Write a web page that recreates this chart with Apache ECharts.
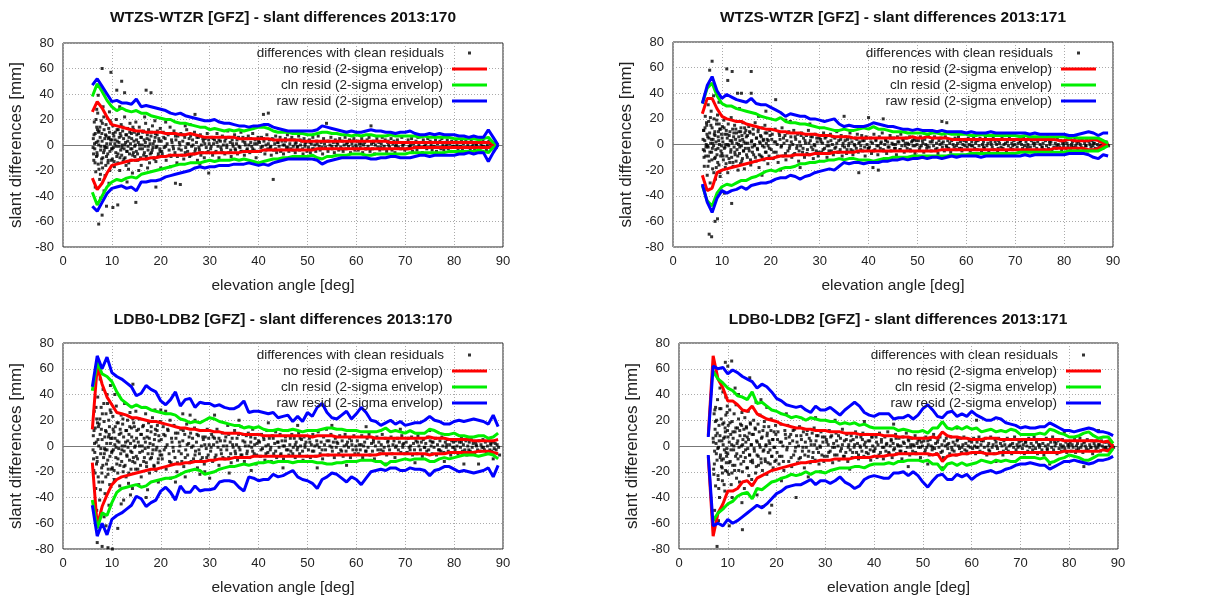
<!DOCTYPE html>
<html><head><meta charset="utf-8">
<script src="https://cdn.jsdelivr.net/npm/echarts@6/dist/echarts.min.js"></script>
<style>html,body{margin:0;padding:0;background:#fff}#c{width:1213px;height:601px}</style>
</head><body><div id="c"></div><script>
const TITLES=['WTZS-WTZR [GFZ] - slant differences 2013:170','WTZS-WTZR [GFZ] - slant differences 2013:171','LDB0-LDB2 [GFZ] - slant differences 2013:170','LDB0-LDB2 [GFZ] - slant differences 2013:171'];
const X_NAME='elevation angle [deg]';
const Y_NAME='slant differences [mm]';
const LEGEND_NAMES=['differences with clean residuals','no resid (2-sigma envelop)','cln resid (2-sigma envelop)','raw resid (2-sigma envelop)'];
const ELEV=[6,7,8,9,10,11,12,13,14,15,16,17,18,19,20,21,22,23,24,25,26,27,28,29,30,31,32,33,34,35,36,37,38,39,40,41,42,43,44,45,46,47,48,49,50,51,52,53,54,55,56,57,58,59,60,61,62,63,64,65,66,67,68,69,70,71,72,73,74,75,76,77,78,79,80,81,82,83,84,85,86,87,88,89];

// ---- Panel 1: WTZS-WTZR 2013:170
const P1_NO_UP=[26,34,29,22,16,15,14,13,12,11,11,10,10,10, 10,9,9,9,8,8,9,8,7,6,6,6,6,6, 6,6,5,5,5,5,5,5,5,4,4,4,4,4, 4,3,3,3,3,3,3,3,3,3,3,3,3,3, 3,3,3,3,3,2,2,2,2,2,2,2,2,2, 2,2,2,2,2,2,2,2,2,2,2,2,1,0];
const P1_NO_LO=[-26,-35,-30,-22,-16,-15,-14,-13,-12,-12,-11,-11,-10,-10, -9,-9,-8,-8,-8,-8,-7,-7,-6,-6,-6,-6,-6,-6, -6,-6,-6,-5,-5,-5,-5,-4,-4,-4,-4,-4,-4,-4, -4,-4,-4,-4,-3,-3,-3,-3,-3,-3,-3,-3,-3,-3, -3,-3,-3,-3,-3,-3,-3,-3,-3,-3,-2,-2,-2,-2, -2,-2,-2,-2,-2,-2,-2,-2,-2,-2,-2,-2,-1,0];
const P1_CLN_UP=[38,48,42,35,30,27,29,27,26,27,25,25,23,22, 21,20,20,18,17,17,16,15,14,14,12,13,12,11, 12,11,12,11,12,13,14,14,13,11,10,10,10,9, 9,9,8,8,9,10,10,9,9,8,8,7,8,7, 8,8,7,7,7,8,7,7,7,7,7,6,7,6, 6,6,6,6,5,5,5,5,5,4,5,6,2,0];
const P1_CLN_LO=[-37,-47,-40,-33,-29,-27,-28,-26,-25,-26,-23,-22,-21,-20, -19,-18,-17,-16,-15,-15,-14,-14,-14,-13,-12,-13,-12,-12, -12,-11,-12,-11,-12,-13,-14,-13,-12,-11,-11,-10,-10,-9, -9,-9,-9,-8,-10,-11,-9,-9,-8,-8,-8,-7,-7,-7, -8,-8,-7,-7,-7,-7,-7,-7,-7,-6,-6,-6,-6,-6, -6,-6,-6,-5,-5,-5,-5,-5,-5,-4,-5,-6,-2,0];
const P1_RAW_UP=[47,52,46,40,34,35,33,33,32,36,30,31,30,29, 28,27,25,24,25,23,22,21,20,19,19,20,18,17, 17,16,15,15,14,15,15,16,16,14,13,12,11,11, 11,11,11,11,12,15,14,13,12,11,10,11,10,10, 11,12,11,11,10,10,9,10,10,11,9,8,8,9, 8,9,8,8,8,7,7,6,7,6,6,12,6,0];
const P1_RAW_LO=[-48,-52,-45,-38,-34,-33,-32,-34,-33,-36,-29,-29,-28,-28, -27,-25,-24,-23,-22,-21,-20,-18,-17,-18,-17,-17,-16,-16, -16,-15,-15,-15,-14,-15,-16,-15,-16,-14,-13,-12,-11,-11, -11,-11,-11,-11,-12,-15,-13,-12,-11,-10,-10,-10,-10,-10, -10,-11,-11,-10,-10,-9,-9,-10,-10,-10,-9,-8,-8,-9, -8,-8,-8,-8,-8,-7,-7,-6,-7,-6,-6,-13,-6,0];
const P1_DOTS=[6.2,5,6.3,-12,6.4,18,6.5,-3,6.6,9,6.7,-21,6.8,2,6.9,14,7.0,-8,7.1,25,7.2,-15,7.3,0,7.4,11,7.5,-27,7.6,6,7.7,-4,7.8,19,7.9,-11,8.0,3,8.1,-18,8.2,30,8.3,-6,8.4,12,8.5,-1,8.6,-24,8.7,8,8.8,16,8.9,-9,9.0,-2,9.1,21,9.2,-14,9.3,5,9.4,-30,9.5,10,9.6,-5,9.7,1,9.8,17,9.9,-12,6.6,-33,7.3,-62,8.0,60,8.9,-48,9.8,57,7.7,-42,6.9,28,8.4,-36,9.5,26,7.2,39,8.0,-55,
10.0,4,10.1,-11,10.2,15,10.3,-2,10.4,7,10.5,-17,10.6,1,10.7,10,10.8,-6,10.9,20,11.0,-9,11.1,3,11.2,-14,11.3,12,11.4,-1,11.5,6,11.6,-20,11.7,9,11.8,-4,11.9,16,12.0,-8,12.1,0,12.2,11,12.3,-13,12.4,5,12.5,-3,12.6,22,12.7,-10,12.8,2,12.9,-16,13.0,8,13.1,-5,13.2,13,13.3,-1,13.4,-19,13.5,6,13.6,-7,13.7,17,13.8,1,13.9,-12,14.0,9,14.1,-3,14.2,-22,14.3,14,14.4,-6,14.5,3,14.6,10,14.7,-9,14.8,0,14.9,18,12.0,50,11.0,43,12.6,41,10.2,-49,11.2,-47,14.9,-45,13.1,-29,11.6,30,
15.0,-5,15.1,8,15.3,-12,15.4,2,15.6,14,15.7,-3,15.9,6,16.0,-16,16.2,0,16.3,10,16.5,-8,16.6,4,16.8,-1,16.9,17,17.1,-11,17.2,5,17.4,-4,17.5,12,17.7,-14,17.8,1,18.0,7,18.1,-6,18.3,15,18.4,-2,18.6,-10,18.7,3,18.9,9,19.0,-13,19.2,-1,19.3,11,19.5,-7,19.6,5,19.8,-3,19.9,13,15.5,-20,16.7,22,17.3,-18,18.8,19,17.0,43,18.0,41,19.0,-33,
20.1,3,20.3,-7,20.5,10,20.7,-2,20.9,5,21.1,-12,21.3,1,21.5,8,21.7,-4,21.9,14,22.1,-9,22.3,2,22.5,-1,22.7,11,22.9,-6,23.1,4,23.3,-14,23.5,7,23.7,-3,23.9,0,24.1,9,24.3,-8,24.5,3,24.7,-11,24.9,6,25.1,-2,25.3,12,25.5,-5,25.7,1,25.9,-9,26.1,7,26.3,-1,26.5,4,26.7,-7,26.9,10,27.1,-3,27.3,2,27.5,-12,27.7,6,27.9,-4,28.1,8,28.3,0,28.5,-6,28.7,3,28.9,-10,29.1,5,29.3,-2,29.5,9,29.7,-5,29.9,1,21.0,18,22.0,-17,26.0,16,28.0,-15,23.0,-30,24.0,-31,27.0,24,29.8,-22,25.0,15,20.0,-18,
30.2,-3,30.4,6,30.6,-8,30.8,1,31.0,4,31.3,-5,31.5,9,31.7,-1,31.9,-10,32.2,3,32.4,-4,32.6,7,32.8,0,33.1,-7,33.3,5,33.5,-2,33.7,11,33.9,-6,34.2,2,34.4,-9,34.6,4,34.8,-1,35.1,8,35.3,-4,35.5,1,35.7,-7,35.9,6,36.2,-2,36.4,10,36.6,-5,36.8,3,37.1,-8,37.3,0,37.5,5,37.7,-3,37.9,7,38.2,-6,38.4,2,38.6,-1,38.8,9,39.1,-4,39.3,4,39.5,-10,39.7,1,39.9,6,
40.2,2,40.4,-5,40.6,6,40.8,-1,41.0,24,41.1,3,41.3,-7,41.5,0,41.7,8,41.9,-3,42.0,25,42.2,4,42.4,-2,42.6,-8,42.8,5,43.0,-27,43.1,-4,43.3,1,43.5,7,43.7,-6,43.9,2,44.2,-1,44.4,6,44.6,-4,44.8,3,45.1,-7,45.3,0,45.5,5,45.7,-2,45.9,8,46.2,-5,46.4,1,46.6,-3,46.8,6,47.1,-1,47.3,4,47.5,-6,47.7,2,47.9,-2,48.2,7,48.4,-4,48.6,0,48.8,3,49.1,-7,49.3,5,49.5,-1,49.7,2,49.9,-5,
50.2,-2,50.4,4,50.6,-6,50.8,1,51.1,6,51.3,-3,51.5,0,51.7,-5,51.9,3,52.2,7,52.4,-1,52.6,-4,52.8,2,53.1,-7,53.3,5,53.5,1,53.7,-2,53.9,17,54.2,-5,54.4,3,54.6,0,54.8,6,55.1,-3,55.3,2,55.5,-6,55.7,4,55.9,-1,56.2,1,56.4,-4,56.6,5,56.8,-2,57.1,3,57.3,-5,57.5,0,57.7,6,57.9,-3,58.2,2,58.4,-1,58.6,4,58.8,-6,59.1,1,59.3,-2,59.5,5,59.7,-4,59.9,0,
60.2,3,60.4,-4,60.6,1,60.8,-2,61.1,5,61.3,-6,61.5,0,61.7,2,61.9,-3,62.2,4,62.4,-1,62.6,6,62.8,-5,63.0,15,63.1,1,63.3,-3,63.5,3,63.7,-7,63.9,0,64.2,5,64.4,-2,64.6,2,64.8,-4,65.1,1,65.3,6,65.5,-3,65.7,-1,65.9,4,66.2,-5,66.4,2,66.6,0,66.8,-2,67.1,5,67.3,-4,67.5,1,67.7,3,67.9,-6,68.2,0,68.4,4,68.6,-2,68.8,2,69.1,-3,69.3,6,69.5,-1,69.7,1,69.9,-4,
70.2,2,70.4,-3,70.6,4,70.8,-1,71.1,0,71.3,5,71.5,-5,71.7,1,71.9,-2,72.2,3,72.4,-4,72.6,6,72.8,0,73.1,-2,73.3,2,73.5,-6,73.7,4,73.9,-1,74.2,1,74.4,-3,74.6,5,74.8,-2,75.1,3,75.3,0,75.5,-4,75.7,2,75.9,-1,76.2,4,76.4,-5,76.6,1,76.8,-2,77.1,3,77.3,-3,77.5,5,77.7,0,77.9,-4,78.2,2,78.4,-1,78.6,4,78.8,-3,79.1,1,79.3,-5,79.5,3,79.7,-1,79.9,2,
80.2,-2,80.4,3,80.6,0,80.8,-4,81.1,2,81.3,-1,81.5,4,81.7,-3,81.9,1,82.2,-2,82.4,3,82.6,-5,82.8,0,83.1,2,83.3,-3,83.5,4,83.7,-1,83.9,1,84.2,-4,84.4,2,84.6,0,84.8,-2,85.1,3,85.3,-3,85.5,1,85.7,-1,85.9,4,86.2,-2,86.4,2,86.6,-4,86.8,0,87.1,3,87.3,-2,87.5,1,87.7,-3,87.9,2,88.2,-1,88.4,1,88.6,-2,88.8,0,
6.15,-2,6.35,8,6.55,-14,6.75,20,6.95,-6,7.15,3,7.35,-19,7.55,14,7.75,-1,7.95,9,8.15,-10,8.35,22,8.55,5,8.75,-16,8.95,1,9.15,-7,9.35,13,9.55,-20,9.75,4,9.95,-3,6.45,1,6.85,-9,7.25,10,7.65,-23,8.05,17,8.45,-4,8.85,7,9.25,-12,9.65,19,6.25,-7,7.05,12,7.85,-14,8.65,-2,9.45,6,
10.05,-3,10.25,9,10.45,-13,10.65,4,10.85,-1,11.05,12,11.25,-7,11.45,2,11.65,-10,11.85,7,12.05,-2,12.25,14,12.45,-11,12.65,0,12.85,8,13.05,-5,13.25,3,13.45,-14,13.65,10,13.85,-3,14.05,5,14.25,-8,14.45,12,14.65,-1,14.85,-12,15.05,4,15.25,-7,15.45,9,15.65,0,15.85,-10,16.05,6,16.25,-3,16.45,11,16.65,-6,16.85,2,17.05,-9,17.25,8,17.45,-1,17.65,4,17.85,-7,18.05,10,18.25,-4,18.45,1,18.65,-11,18.85,6,19.05,-2,19.25,8,19.45,-9,19.65,3,19.85,-5,
20.2,-5,20.6,6,21.0,-1,21.4,9,21.8,-8,22.2,4,22.6,-3,23.0,7,23.4,-9,23.8,2,24.2,-4,24.6,8,25.0,-6,25.4,1,25.8,5,26.2,-8,26.6,0,27.0,-5,27.4,6,27.8,-2,28.2,-8,28.6,5,29.0,1,29.4,-6,29.8,4,30.3,-1,30.7,5,31.1,-6,31.5,2,31.9,4,32.3,-2,32.7,-6,33.1,3,33.5,0,33.9,6,34.3,-4,34.7,1,
35.2,-3,35.6,4,36.0,-1,36.4,-5,36.8,6,37.2,2,37.6,-4,38.0,0,38.4,5,38.8,-3,39.2,1,39.6,-5,40.0,3,40.5,-2,41.0,5,41.5,-4,42.0,1,42.5,-1,43.0,4,43.5,-3,44.0,2,44.5,-5,45.0,0,45.5,3,46.0,-2,46.5,4,47.0,-4,47.5,1,48.0,-1,48.5,4,49.0,-3,49.5,1,
50.5,2,51.0,-3,52.0,1,53.0,-2,54.0,3,55.0,-1,56.0,2,57.0,-3,58.0,1,59.0,3,60.0,-2,61.0,1,62.0,-3,63.5,2,65.0,-2,66.5,3,68.0,-1,69.5,1,71.0,-2,72.5,2,74.0,-1,75.5,2,77.0,-2,78.5,1,80.0,-1,81.5,2,83.0,-2,84.5,1,86.0,-1,87.5,1];

// ---- Panel 2: WTZS-WTZR 2013:171
const P2_NO_UP=[24,36,36,28,22,20,19,18,18,16,15,14,13,12, 12,11,10,10,9,9,9,8,8,8,7,7,7,6, 6,6,6,5,5,5,5,5,5,5,5,5,5,5, 5,6,5,5,6,5,5,5,5,4,4,4,4,4, 4,4,4,4,4,4,4,4,4,4,4,4,4,4, 4,4,4,3,3,4,3,3,3,3,4,3,1,0];
const P2_NO_LO=[-24,-36,-34,-22,-20,-19,-18,-17,-16,-15,-14,-13,-12,-11, -11,-10,-9,-9,-9,-8,-8,-8,-8,-7,-7,-7,-7,-6, -6,-6,-6,-6,-5,-5,-5,-5,-5,-5,-5,-5,-5,-5, -5,-5,-5,-5,-5,-5,-5,-4,-4,-4,-4,-4,-4,-4, -4,-4,-4,-4,-4,-4,-4,-4,-4,-4,-4,-4,-4,-4, -4,-4,-3,-3,-3,-3,-3,-3,-3,-4,-4,-3,-1,0];
const P2_CLN_UP=[32,44,48,38,32,30,30,28,27,26,25,24,22,21, 20,19,21,18,17,17,16,16,15,14,13,13,12,11, 11,12,11,11,12,13,12,14,12,12,11,10,10,10, 9,9,9,9,8,9,9,8,9,8,8,8,8,7, 7,8,7,7,7,7,7,7,7,6,7,6,6,6, 6,6,6,6,6,5,6,5,5,5,5,5,3,1];
const P2_CLN_LO=[-32,-44,-48,-38,-33,-31,-32,-30,-28,-28,-26,-25,-23,-21, -20,-21,-19,-18,-18,-17,-15,-15,-14,-14,-13,-13,-12,-12, -11,-12,-11,-11,-12,-12,-12,-13,-12,-11,-11,-10,-10,-10, -10,-9,-9,-9,-9,-9,-9,-9,-9,-8,-8,-8,-8,-7, -7,-7,-7,-7,-7,-7,-7,-7,-7,-6,-6,-6,-6,-6, -6,-6,-6,-6,-6,-5,-5,-5,-5,-5,-5,-5,-3,-1];
const P2_RAW_UP=[32,46,53,42,36,39,37,35,34,33,36,32,31,31, 29,27,25,22,24,23,22,22,20,20,19,18,19,20, 16,14,15,14,14,14,15,17,16,15,14,14,13,12, 12,11,12,11,11,11,10,11,10,10,10,10,9,10, 9,9,9,10,9,9,9,9,9,9,9,8,9,8, 8,8,8,8,8,7,7,8,9,10,9,7,9,9];
const P2_RAW_LO=[-31,-45,-53,-42,-36,-38,-36,-35,-33,-35,-32,-31,-30,-30, -29,-27,-26,-26,-24,-25,-27,-25,-24,-22,-21,-20,-19,-20, -17,-14,-15,-14,-14,-15,-14,-14,-14,-13,-13,-12,-12,-11, -12,-11,-11,-10,-11,-10,-10,-11,-10,-9,-10,-9,-9,-9, -9,-10,-9,-9,-9,-9,-9,-9,-9,-9,-8,-9,-8,-8, -8,-8,-8,-8,-8,-7,-7,-7,-7,-8,-10,-11,-8,-9];
const P2_DOTS=[6.2,-4,6.3,11,6.4,-17,6.5,3,6.6,22,6.7,-9,6.8,0,6.9,15,7.0,-24,7.1,6,7.2,-2,7.3,18,7.4,-13,7.5,9,7.6,-30,7.7,1,7.8,26,7.9,-6,8.0,13,8.1,-19,8.2,4,8.3,-1,8.4,20,8.5,-11,8.6,7,8.7,-27,8.8,2,8.9,16,9.0,-8,9.1,23,9.2,-3,9.3,10,9.4,-16,9.5,0,9.6,-22,9.7,12,9.8,-5,9.9,8,7.5,58,8.0,65,7.4,-70,7.9,-72,8.6,-60,9.1,-58,6.9,-35,8.3,38,9.4,33,7.2,31,
10.0,-7,10.1,14,10.2,2,10.3,-12,10.4,19,10.5,-3,10.6,8,10.7,-18,10.8,0,10.9,11,11.0,-9,11.1,5,11.2,-22,11.3,16,11.4,-1,11.5,7,11.6,-14,11.7,3,11.8,-6,11.9,21,12.0,-10,12.1,1,12.2,12,12.3,-17,12.4,6,12.5,-2,12.6,15,12.7,-8,12.8,4,12.9,-13,13.0,9,13.1,-4,13.2,18,13.3,-20,13.4,0,13.5,10,13.6,-7,13.7,3,13.8,-15,13.9,13,14.0,-1,14.1,7,14.2,-11,14.3,17,14.4,-5,14.5,2,14.6,-19,14.7,9,14.8,-3,14.9,11,11.0,59,12.1,57,11.2,50,13.2,40,14.0,40,12.0,-46,10.5,-38,13.6,28,
15.0,6,15.2,-10,15.3,1,15.5,14,15.6,-5,15.8,9,15.9,-16,16.1,3,16.2,-2,16.4,12,16.5,-8,16.7,0,16.8,17,17.0,-13,17.1,5,17.3,-4,17.4,10,17.6,-18,17.7,2,17.9,7,18.0,-9,18.2,13,18.3,-1,18.5,4,18.6,-12,18.8,15,18.9,-6,19.1,1,19.2,9,19.4,-15,19.5,3,19.7,-3,19.8,11,16.0,57,16.0,40,17.5,22,18.2,-24,19.0,26,
20.1,-4,20.3,8,20.5,-11,20.7,2,20.9,12,21.1,-6,21.3,0,21.5,-14,21.7,9,21.9,4,22.1,-2,22.3,13,22.5,-9,22.7,1,22.9,7,23.1,-12,23.3,3,23.5,-5,23.7,10,23.9,-1,24.1,6,24.3,-10,24.5,0,24.7,11,24.9,-7,25.1,4,25.3,-3,25.5,8,25.7,-13,25.9,2,26.1,-1,26.3,9,26.5,-6,26.7,5,26.9,-10,27.1,1,27.3,7,27.5,-4,27.7,11,27.9,-8,28.1,3,28.3,-2,28.5,6,28.7,-11,28.9,0,29.1,8,29.3,-5,29.5,2,29.7,-9,29.9,5,21.0,35,22.0,-20,24.0,18,26.0,-18,28.0,16,23.0,19,
30.2,4,30.4,-6,30.6,1,30.8,9,31.0,-3,31.3,6,31.5,-10,31.7,2,31.9,-1,32.2,8,32.4,-5,32.6,0,32.8,-8,33.1,5,33.3,-2,33.5,10,33.7,-6,33.9,3,34.2,-4,34.4,7,34.6,-9,34.8,1,35.0,22,35.1,-2,35.3,6,35.5,-7,35.7,4,35.9,-1,36.2,9,36.4,-4,36.6,2,36.8,-8,37.1,0,37.3,5,37.5,-3,37.7,8,37.9,-6,38.0,-22,38.2,2,38.4,-1,38.6,7,38.8,-5,39.1,3,39.3,-9,39.5,6,39.7,0,39.9,-3,
40.0,21,40.2,-2,40.4,5,40.6,-7,40.8,1,41.1,8,41.3,-4,41.5,3,41.7,-1,41.9,-8,42.0,-20,42.2,6,42.4,-3,42.6,2,42.8,9,43.0,20,43.1,-5,43.3,0,43.5,4,43.7,-7,43.9,2,44.2,-2,44.4,7,44.6,-5,44.8,1,45.1,5,45.3,-3,45.5,0,45.7,-8,45.9,6,46.2,2,46.4,-4,46.6,8,46.8,-1,47.1,3,47.3,-6,47.5,1,47.7,5,47.9,-3,48.2,0,48.4,6,48.6,-5,48.8,2,49.1,-1,49.3,4,49.5,-7,49.7,3,49.9,0,40.9,-18,
50.2,3,50.4,-4,50.6,6,50.8,-1,51.1,1,51.3,-6,51.5,4,51.7,0,51.9,-3,52.2,7,52.4,-2,52.6,2,52.8,-5,53.1,4,53.3,-1,53.5,6,53.7,-4,53.9,1,54.2,-7,54.4,3,54.6,0,54.8,5,55.0,18,55.1,-2,55.3,2,55.5,-5,55.7,6,55.9,-1,56.0,17,56.2,3,56.4,-3,56.6,1,56.8,-6,57.1,4,57.3,0,57.5,-2,57.7,5,57.9,-4,58.2,1,58.4,6,58.6,-3,58.8,2,59.1,-5,59.3,0,59.5,3,59.7,-1,59.9,4,
60.2,-2,60.4,5,60.6,0,60.8,-5,61.1,2,61.3,-1,61.5,6,61.7,-3,61.9,1,62.2,-4,62.4,3,62.6,-1,62.8,5,63.1,-6,63.3,0,63.5,2,63.7,-3,63.9,6,64.2,-1,64.4,1,64.6,-5,64.8,4,65.1,0,65.3,-2,65.5,5,65.7,-4,65.9,2,66.2,0,66.4,-6,66.6,3,66.8,1,67.1,-2,67.3,5,67.5,-3,67.7,0,67.9,4,68.2,-5,68.4,2,68.6,-1,68.8,6,69.1,-3,69.3,1,69.5,-4,69.7,3,69.9,0,
70.2,4,70.4,-2,70.6,1,70.8,-5,71.1,3,71.3,0,71.5,-3,71.7,5,71.9,-1,72.2,2,72.4,-4,72.6,0,72.8,6,73.1,-2,73.3,3,73.5,-5,73.7,1,73.9,-1,74.2,4,74.4,-3,74.6,2,74.8,-6,75.1,0,75.3,5,75.5,-2,75.7,1,75.9,-4,76.2,3,76.4,-1,76.6,6,76.8,-3,77.1,0,77.3,2,77.5,-5,77.7,4,77.9,-2,78.2,1,78.4,-3,78.6,5,78.8,0,79.1,-2,79.3,3,79.5,-4,79.7,1,79.9,-1,
80.2,3,80.4,-3,80.6,1,80.8,-1,81.1,4,81.3,-4,81.5,0,81.7,2,81.9,-2,82.2,5,82.4,-1,82.6,1,82.8,-4,83.1,3,83.3,0,83.5,-2,83.7,4,83.9,-3,84.2,1,84.4,-1,84.6,3,84.8,-5,85.1,2,85.3,0,85.5,-2,85.7,3,85.9,-1,86.2,1,86.4,-3,86.6,4,86.8,0,87.1,-2,87.3,2,87.5,-1,87.7,3,87.9,-3,88.2,1,88.4,-1,88.6,2,88.8,0,89.1,-1,
6.15,4,6.35,-10,6.55,13,6.75,-2,6.95,8,7.15,-17,7.35,5,7.55,-6,7.75,15,7.95,-12,8.15,1,8.35,-22,8.55,10,8.75,-4,8.95,19,9.15,-14,9.35,3,9.55,12,9.75,-9,9.95,-1,6.45,-5,6.85,17,7.25,-9,7.65,21,8.05,-3,8.45,8,8.85,-18,9.25,6,9.65,-25,6.25,11,7.05,-1,7.85,4,8.65,-10,9.45,16,
10.05,5,10.25,-9,10.45,13,10.65,-2,10.85,-15,11.05,8,11.25,0,11.45,-11,11.65,10,11.85,-4,12.05,3,12.25,-14,12.45,9,12.65,-6,12.85,12,13.05,1,13.25,-9,13.45,6,13.65,-2,13.85,10,14.05,-13,14.25,4,14.45,-5,14.65,13,14.85,1,15.05,-8,15.25,7,15.45,-3,15.65,10,15.85,-12,16.05,2,16.25,-6,16.45,8,16.65,-1,16.85,-10,17.05,5,17.25,-3,17.45,12,17.65,-8,17.85,1,18.05,6,18.25,-10,18.45,3,18.65,-2,18.85,9,19.05,-6,19.25,4,19.45,-1,19.65,-9,19.85,7,
20.2,4,20.6,-6,21.0,2,21.4,-9,21.8,7,22.2,-1,22.6,5,23.0,-7,23.4,9,23.8,-3,24.2,2,24.6,-8,25.0,6,25.4,-1,25.8,-5,26.2,7,26.6,-3,27.0,3,27.4,-7,27.8,1,28.2,6,28.6,-4,29.0,-1,29.4,5,29.8,-6,30.3,2,30.7,-4,31.1,5,31.5,-1,31.9,-5,32.3,3,32.7,6,33.1,-3,33.5,1,33.9,-6,34.3,4,34.7,-1,
35.2,3,35.6,-4,36.0,1,36.4,5,36.8,-5,37.2,-1,37.6,4,38.0,1,38.4,-4,38.8,3,39.2,-2,39.6,5,40.0,-3,40.5,2,41.0,-5,41.5,4,42.0,-1,42.5,1,43.0,-4,43.5,3,44.0,-2,44.5,5,45.0,0,45.5,-3,46.0,2,46.5,-4,47.0,4,47.5,-1,48.0,1,48.5,-4,49.0,3,49.5,-1,
50.5,-2,51.0,3,52.0,-1,53.0,2,54.0,-3,55.0,1,56.0,-2,57.0,3,58.0,-1,59.0,-3,60.0,2,61.0,-1,62.0,3,63.5,-2,65.0,2,66.5,-3,68.0,1,69.5,-1,71.0,2,72.5,-2,74.0,1,75.5,-2,77.0,2,78.5,-1,80.0,1,81.5,-2,83.0,2,84.5,-1,86.0,1,87.5,-1];

// ---- Panel 3: LDB0-LDB2 2013:170
const P3_NO_UP=[13,62,48,38,32,26,25,24,22,22,21,20,19,19, 18,17,16,15,14,14,13,13,12,12,12,11,11,10, 10,10,10,9,9,9,9,8,8,8,8,8,8,8, 8,8,8,7,8,8,8,8,7,7,7,7,7,7, 7,7,6,6,6,6,6,6,6,6,6,6,6,7, 6,6,6,5,5,5,5,5,4,4,4,4,4,5];
const P3_NO_LO=[-13,-62,-47,-38,-30,-26,-24,-23,-22,-21,-20,-19,-18,-18, -17,-16,-15,-14,-14,-13,-13,-12,-12,-12,-11,-11,-10,-10, -10,-9,-9,-9,-9,-8,-8,-8,-8,-8,-8,-8,-8,-8, -8,-8,-8,-8,-8,-7,-7,-7,-7,-7,-7,-7,-7,-7, -7,-7,-7,-6,-6,-6,-6,-6,-6,-6,-6,-6,-6,-7, -6,-6,-6,-5,-5,-5,-5,-5,-5,-4,-4,-4,-5,-6];
const P3_CLN_UP=[43,65,56,54,50,42,36,33,30,32,30,30,28,27, 26,25,25,24,21,20,18,19,18,20,22,21,19,18, 17,16,16,14,15,14,15,13,12,12,13,12,12,13, 12,11,12,12,12,13,14,14,13,13,12,12,12,11, 11,11,11,12,14,11,12,11,10,12,10,10,10,13, 12,10,9,9,10,8,8,7,7,8,8,6,7,10];
const P3_CLN_LO=[-42,-64,-52,-54,-44,-36,-33,-32,-31,-30,-32,-31,-28,-27, -26,-25,-25,-24,-22,-20,-19,-18,-19,-22,-21,-20,-18,-17, -16,-16,-15,-14,-15,-14,-13,-13,-12,-13,-12,-12,-12,-13, -12,-12,-12,-12,-13,-13,-14,-14,-13,-13,-12,-12,-12,-11, -11,-11,-12,-12,-15,-12,-12,-11,-10,-11,-10,-10,-10,-12, -12,-10,-9,-10,-9,-8,-7,-7,-7,-8,-7,-6,-7,-10];
const P3_RAW_UP=[46,70,60,69,57,54,52,49,46,39,41,47,44,42, 35,32,36,42,31,36,37,30,34,33,33,31,32,30, 29,29,31,35,26,27,27,26,25,26,22,23,24,19, 23,19,26,23,30,33,26,22,21,24,27,21,25,30, 26,20,19,16,18,20,17,19,16,17,18,18,20,23, 20,19,17,17,19,20,19,20,21,20,19,17,24,15];
const P3_RAW_LO=[-46,-70,-60,-69,-57,-54,-52,-49,-46,-39,-41,-47,-44,-42, -35,-32,-36,-42,-31,-36,-36,-31,-35,-34,-34,-33,-28,-27, -27,-28,-32,-35,-24,-25,-27,-26,-26,-22,-24,-23,-21,-19, -24,-26,-27,-29,-33,-26,-24,-21,-22,-25,-28,-24,-26,-30, -25,-20,-19,-18,-19,-17,-17,-19,-19,-17,-18,-18,-19,-23, -19,-18,-16,-16,-18,-20,-19,-20,-21,-20,-19,-17,-24,-15];
const P3_DOTS=[6.2,8,6.3,-19,6.4,27,6.5,-5,6.6,14,6.7,-33,6.8,3,6.9,21,7.0,-12,7.1,38,7.2,-24,7.3,0,7.4,17,7.5,-42,7.6,9,7.7,-6,7.8,30,7.9,-17,8.0,5,8.1,-28,8.2,44,8.3,-9,8.4,19,8.5,-2,8.6,-37,8.7,12,8.8,25,8.9,-14,9.0,-3,9.1,33,9.2,-22,9.3,7,9.4,-46,9.5,15,9.6,-8,9.7,2,9.8,26,9.9,-18,7.0,-75,8.0,-78,9.2,-79,10.1,-80,8.8,-62,7.6,52,9.7,47,6.9,-50,8.4,-55,9.0,40,
10.0,6,10.1,-17,10.2,23,10.3,-3,10.4,11,10.5,-26,10.6,1,10.7,15,10.8,-9,10.9,31,11.0,-14,11.1,4,11.2,-21,11.3,18,11.4,-2,11.5,9,11.6,-31,11.7,13,11.8,-6,11.9,24,12.0,-12,12.1,0,12.2,17,12.3,-20,12.4,7,12.5,-4,12.6,33,12.7,-15,12.8,3,12.9,-24,13.0,12,13.1,-8,13.2,20,13.3,-1,13.4,-29,13.5,9,13.6,-11,13.7,26,13.8,2,13.9,-18,14.0,14,14.1,-5,14.2,-33,14.3,21,14.4,-9,14.5,4,14.6,15,14.7,-13,14.8,0,14.9,27,11.2,-64,14.3,48,12.4,-42,10.6,40,13.8,-38,11.9,-45,
15.0,-8,15.1,12,15.3,-18,15.4,3,15.6,21,15.7,-5,15.9,9,16.0,-24,16.2,0,16.3,15,16.5,-12,16.6,6,16.8,-2,16.9,25,17.1,-16,17.2,7,17.4,-6,17.5,18,17.7,-21,17.8,2,18.0,11,18.1,-9,18.3,22,18.4,-3,18.6,-15,18.7,5,18.9,13,19.0,-19,19.2,-1,19.3,16,19.5,-10,19.6,8,19.8,-4,19.9,19,15.5,-30,16.7,30,17.3,-34,18.8,28,19.5,-28,17.0,-40,
20.1,5,20.3,-10,20.5,15,20.7,-3,20.9,8,21.1,-18,21.3,1,21.5,12,21.7,-6,21.9,20,22.1,-13,22.3,3,22.5,-1,22.7,16,22.9,-9,23.1,6,23.3,-20,23.5,10,23.7,-4,23.9,0,24.1,13,24.3,-12,24.5,4,24.7,-16,24.9,9,25.1,-3,25.3,17,25.5,-7,25.7,2,25.9,-13,26.1,10,26.3,-1,26.5,6,26.7,-10,26.9,14,27.1,-4,27.3,3,27.5,-17,27.7,8,27.9,-6,28.1,12,28.3,0,28.5,-9,28.7,5,28.9,-14,29.1,7,29.3,-2,29.5,13,29.7,-7,29.9,1,21.0,27,22.0,-25,26.0,24,28.0,-22,23.0,-28,24.5,25,27.0,20,29.0,-20,25.0,-24,20.0,28,30.0,-25,
30.2,-4,30.4,9,30.6,-12,30.8,1,31.0,6,31.3,-7,31.5,13,31.7,-1,31.9,-15,32.2,4,32.4,-6,32.6,10,32.8,0,33.1,-10,33.3,7,33.5,-3,33.7,16,33.9,-9,34.2,3,34.4,-13,34.6,6,34.8,-1,35.1,12,35.3,-6,35.5,1,35.7,-11,35.9,9,36.2,-3,36.4,15,36.6,-7,36.8,4,37.1,-12,37.3,0,37.5,8,37.7,-4,37.9,10,38.2,-9,38.4,3,38.6,-1,38.8,13,39.1,-6,39.3,6,39.5,-14,39.7,2,39.9,9,31.0,24,34.0,-21,36.0,20,38.5,-19,
40.2,3,40.4,-8,40.6,9,40.8,-2,41.1,5,41.3,-11,41.5,0,41.7,12,41.9,-5,42.2,6,42.4,-3,42.6,-12,42.8,8,43.1,-6,43.3,2,43.5,11,43.7,-9,43.9,3,44.2,-1,44.4,9,44.6,-6,44.8,4,45.1,-10,45.3,0,45.5,7,45.7,-3,45.9,12,46.2,-7,46.4,1,46.6,-4,46.8,9,47.1,-1,47.3,6,47.5,-9,47.7,3,47.9,-3,48.2,10,48.4,-6,48.6,0,48.8,5,49.1,-11,49.3,7,49.5,-1,49.7,3,49.9,-8,42.0,18,45.0,-17,48.0,16,
50.2,-3,50.4,6,50.6,-9,50.8,1,51.1,9,51.3,-4,51.5,0,51.7,-8,51.9,4,52.2,11,52.4,-1,52.6,-6,52.8,3,53.1,-10,53.3,7,53.5,1,53.7,-3,53.9,13,54.2,-7,54.4,4,54.6,0,54.8,9,55.1,-4,55.3,3,55.5,-9,55.7,6,55.9,-1,56.2,2,56.4,-6,56.6,8,56.8,-3,57.1,4,57.3,-8,57.5,0,57.7,9,57.9,-4,58.2,3,58.4,-1,58.6,6,58.8,-9,59.1,1,59.3,-3,59.5,8,59.7,-6,59.9,0,52.0,-17,55.0,16,58.0,-15,
60.2,4,60.4,-6,60.6,1,60.8,-3,61.1,8,61.3,-9,61.5,0,61.7,3,61.9,-4,62.2,6,62.4,-1,62.6,9,62.8,-7,63.1,2,63.3,-4,63.5,5,63.7,-10,63.9,0,64.2,7,64.4,-3,64.6,3,64.8,-6,65.1,1,65.3,9,65.5,-4,65.7,-1,65.9,6,66.2,-7,66.4,3,66.6,0,66.8,-3,67.1,7,67.3,-6,67.5,1,67.7,4,67.9,-9,68.2,0,68.4,6,68.6,-3,68.8,3,69.1,-5,69.3,8,69.5,-1,69.7,2,69.9,-6,62.0,15,66.0,-14,69.0,13,
70.2,3,70.4,-5,70.6,6,70.8,-1,71.1,0,71.3,7,71.5,-7,71.7,2,71.9,-3,72.2,4,72.4,-6,72.6,8,72.8,0,73.1,-3,73.3,3,73.5,-8,73.7,5,73.9,-1,74.2,2,74.4,-4,74.6,7,74.8,-3,75.1,4,75.3,0,75.5,-6,75.7,3,75.9,-1,76.2,6,76.4,-7,76.6,1,76.8,-3,77.1,4,77.3,-4,77.5,7,77.7,0,77.9,-5,78.2,3,78.4,-1,78.6,5,78.8,-4,79.1,1,79.3,-7,79.5,4,79.7,-1,79.9,3,72.0,-13,75.0,12,78.0,-12,
80.2,-3,80.4,4,80.6,0,80.8,-6,81.1,3,81.3,-1,81.5,6,81.7,-4,81.9,1,82.2,-3,82.4,4,82.6,-7,82.8,0,83.1,3,83.3,-4,83.5,5,83.7,-1,83.9,2,84.2,-5,84.4,3,84.6,0,84.8,-3,85.1,4,85.3,-4,85.5,1,85.7,-1,85.9,5,86.2,-3,86.4,3,86.6,-5,86.8,0,87.1,4,87.3,-3,87.5,1,87.7,-4,87.9,3,88.2,-2,88.4,2,88.6,-3,88.8,1,89.1,-1,82.0,-14,85.0,-14,88.0,-10,89.3,-7,
6.15,-3,6.35,12,6.55,-21,6.75,30,6.95,-9,7.15,5,7.35,-28,7.55,21,7.75,-2,7.85,13,8.15,-15,8.35,33,8.55,7,8.75,-24,8.95,2,9.15,-11,9.35,20,9.55,-30,9.75,6,9.95,-5,6.45,2,6.85,-14,7.25,15,7.65,-34,8.05,25,8.45,-6,8.85,11,9.25,-18,9.65,28,6.25,-10,7.05,18,7.95,-21,8.65,-3,9.45,9,
10.05,-4,10.25,13,10.45,-19,10.65,6,10.85,-1,11.05,18,11.25,-10,11.45,3,11.65,-15,11.85,10,12.05,-3,12.25,21,12.45,-16,12.65,0,12.85,12,13.05,-7,13.25,4,13.45,-21,13.65,15,13.85,-4,14.05,7,14.25,-12,14.45,18,14.65,-1,14.85,-18,15.05,6,15.25,-10,15.45,13,15.65,0,15.85,-15,16.05,9,16.25,-4,16.45,16,16.65,-9,16.85,3,17.05,-13,17.25,12,17.45,-1,17.65,6,17.85,-10,18.05,15,18.25,-6,18.45,1,18.65,-16,18.85,9,19.05,-3,19.25,12,19.45,-13,19.65,4,19.85,-7,
20.2,-7,20.6,9,21.0,-1,21.4,13,21.8,-12,22.2,6,22.6,-4,23.0,10,23.4,-13,23.8,3,24.2,-6,24.6,12,25.0,-9,25.4,1,25.8,7,26.2,-12,26.6,0,27.0,-7,27.4,9,27.8,-3,28.2,-11,28.6,7,29.0,1,29.4,-9,29.8,6,30.3,-1,30.7,7,31.1,-9,31.5,3,31.9,6,32.3,-3,32.7,-9,33.1,4,33.5,0,33.9,9,34.3,-6,34.7,1,
35.2,-4,35.6,6,36.0,-1,36.4,-7,36.8,9,37.2,3,37.6,-6,38.0,0,38.4,7,38.8,-4,39.2,1,39.6,-7,40.0,4,40.5,-3,41.0,7,41.5,-6,42.0,1,42.5,-1,43.0,6,43.5,-4,44.0,3,44.5,-7,45.0,0,45.5,4,46.0,-3,46.5,6,47.0,-6,47.5,1,48.0,-1,48.5,6,49.0,-4,49.5,1,
50.5,3,51.0,-4,52.0,1,53.0,-3,54.0,4,55.0,-1,56.0,3,57.0,-4,58.0,1,59.0,4,60.0,-3,61.0,1,62.0,-4,63.5,3,65.0,-3,66.5,4,68.0,-1,69.5,1,71.0,-3,72.5,3,74.0,-1,75.5,3,77.0,-3,78.5,1,80.0,-1,81.5,3,83.0,-3,84.5,1,86.0,-1,87.5,2];

// ---- Panel 4: LDB0-LDB2 2013:171
const P4_NO_UP=[8,70,52,45,35,35,32,28,27,31,25,23,21,20, 19,17,16,15,14,14,13,13,12,12,12,11,11,11, 10,10,10,9,9,9,9,9,8,8,8,7,7,7, 6,6,6,6,7,6,11,8,7,7,6,6,5,5, 5,6,6,6,5,5,5,5,5,5,5,5,5,5, 5,5,5,4,4,4,4,4,4,4,4,3,4,0];
const P4_NO_LO=[-8,-70,-52,-45,-35,-35,-33,-28,-27,-31,-25,-23,-21,-19, -18,-17,-16,-15,-14,-13,-13,-12,-12,-11,-11,-11,-10,-10, -10,-10,-9,-9,-9,-9,-8,-8,-8,-7,-7,-6,-6,-6, -6,-6,-6,-6,-7,-6,-12,-8,-7,-7,-6,-6,-5,-5, -5,-6,-6,-6,-5,-5,-5,-5,-5,-5,-5,-5,-5,-5, -5,-5,-5,-4,-4,-4,-4,-4,-4,-4,-4,-3,-4,0];
const P4_CLN_UP=[null,58,52,49,45,43,39,38,36,42,33,34,31,28, 27,25,24,22,23,22,20,22,21,20,20,19,19,17, 18,17,18,16,17,15,14,14,14,14,14,12,13,12, 11,11,12,10,14,14,19,14,13,15,13,15,13,14, 11,12,13,11,12,11,13,12,9,9,9,9,10,9, 13,12,10,9,7,7,8,10,11,8,6,7,7,2];
const P4_CLN_LO=[null,-58,-52,-49,-45,-43,-39,-37,-36,-41,-33,-34,-31,-28, -27,-25,-24,-22,-23,-22,-20,-22,-20,-20,-21,-19,-18,-17, -17,-17,-16,-16,-17,-15,-14,-14,-14,-13,-14,-12,-12,-11, -11,-11,-12,-11,-14,-14,-19,-14,-13,-15,-13,-15,-14,-13, -11,-12,-13,-11,-12,-11,-12,-12,-9,-9,-9,-9,-10,-9, -13,-12,-10,-9,-7,-8,-9,-11,-11,-9,-7,-7,-7,-2];
const P4_RAW_UP=[7,62,60,61,56,59,57,54,52,50,45,48,46,42, 37,35,32,31,30,31,28,26,31,28,28,30,27,24, 28,31,34,31,26,24,23,25,25,25,21,22,22,24, 21,24,29,32,28,23,22,26,27,23,25,23,27,24, 22,20,20,22,21,18,17,16,14,15,14,14,15,15, 18,16,14,12,12,11,12,13,14,13,11,11,10,8];
const P4_RAW_LO=[-7,-62,-60,-62,-57,-60,-58,-55,-52,-49,-46,-48,-45,-41, -37,-35,-32,-31,-30,-30,-28,-26,-30,-27,-27,-29,-27,-24, -28,-30,-33,-31,-26,-24,-23,-24,-25,-25,-21,-21,-20,-23, -20,-23,-28,-32,-27,-23,-22,-26,-26,-22,-24,-22,-26,-23, -21,-20,-19,-21,-20,-18,-17,-15,-14,-14,-13,-14,-15,-15, -18,-16,-14,-12,-12,-11,-12,-13,-14,-13,-11,-11,-10,-8];
const P4_DOTS=[7.0,6,7.1,-18,7.2,25,7.3,-4,7.4,13,7.5,-31,7.6,2,7.7,20,7.8,-11,7.9,36,8.0,-23,8.1,-1,8.2,16,8.3,-40,8.4,8,8.5,-7,8.6,29,8.7,-16,8.8,4,8.9,-27,9.0,42,9.1,-10,9.2,18,9.3,-3,9.4,-35,9.5,11,9.6,24,9.7,-13,9.8,-2,9.9,31,7.3,-50,7.8,-78,8.4,45,9.1,-48,9.6,38,8.1,-58,7.5,30,8.9,-21,9.4,7,9.9,-20,9.5,65,10.0,62,10.3,-62,10.8,66,
10.0,-6,10.1,16,10.2,-22,10.3,3,10.4,28,10.5,-12,10.6,9,10.7,-30,10.8,1,10.9,19,11.0,-15,11.1,6,11.2,-3,11.3,25,11.4,-19,11.5,11,11.6,-8,11.7,32,11.8,-25,11.9,2,12.0,14,12.1,-10,12.2,21,12.3,-1,12.4,-28,12.5,8,12.6,17,12.7,-14,12.8,0,12.9,26,13.0,-20,13.1,5,13.2,-5,13.3,13,13.4,-33,13.5,22,13.6,-9,13.7,3,13.8,15,13.9,-17,14.0,7,14.1,-2,14.2,27,14.3,-23,14.4,10,14.5,-7,14.6,18,14.7,-12,14.8,1,14.9,-26,13.0,-65,11.5,45,12.9,-44,14.5,53,10.9,-40,12.2,40,
15.0,9,15.1,-13,15.3,20,15.4,-2,15.6,14,15.7,-21,15.9,4,16.0,-7,16.2,17,16.3,-15,16.5,1,16.6,24,16.8,-10,16.9,6,17.1,-19,17.2,12,17.4,-3,17.5,19,17.7,-12,17.8,0,18.0,-22,18.1,10,18.3,-5,18.4,15,18.6,2,18.7,-14,18.9,21,19.0,-8,19.2,5,19.3,-17,19.5,11,19.6,-1,19.8,16,19.9,-11,16.0,-38,17.2,-47,18.6,-52,19.0,-46,15.8,34,18.0,30,16.8,36,
20.1,-5,20.3,11,20.5,-14,20.7,3,20.9,17,21.1,-8,21.3,0,21.5,-19,21.7,12,21.9,6,22.1,-3,22.3,16,22.5,-12,22.7,2,22.9,9,23.1,-16,23.3,4,23.5,-7,23.7,13,23.9,-1,24.1,8,24.3,-13,24.5,0,24.7,15,24.9,-9,25.1,5,25.3,-4,25.5,11,25.7,-17,25.9,3,26.1,-1,26.3,12,26.5,-8,26.7,6,26.9,-13,27.1,1,27.3,10,27.5,-5,27.7,14,27.9,-11,28.1,4,28.3,-2,28.5,8,28.7,-14,28.9,0,29.1,11,29.3,-7,29.5,3,29.7,-12,29.9,7,24.0,-40,22.0,25,26.5,-24,28.0,22,21.0,-27,29.0,-20,
30.2,5,30.4,-8,30.6,1,30.8,12,31.0,-4,31.3,8,31.5,-13,31.7,2,31.9,-1,32.2,10,32.4,-7,32.6,0,32.8,-11,33.1,6,33.3,-2,33.5,13,33.7,-8,33.9,4,34.2,-5,34.4,9,34.6,-12,34.8,1,35.1,-3,35.3,8,35.5,-9,35.7,5,35.9,-1,36.2,11,36.4,-5,36.6,2,36.8,-10,37.1,0,37.3,7,37.5,-4,37.7,10,37.9,-8,38.2,3,38.4,-1,38.6,9,38.8,-6,39.1,4,39.3,-11,39.5,7,39.7,0,39.9,-4,32.0,20,35.0,-18,38.0,19,
40.2,-2,40.4,7,40.6,-9,40.8,1,41.1,10,41.3,-5,41.5,3,41.7,-1,41.9,-10,42.2,7,42.4,-4,42.6,2,42.8,11,43.1,-6,43.3,0,43.5,5,43.7,-9,43.9,2,44.2,-2,44.4,9,44.6,-6,44.8,1,45.1,6,45.3,-4,45.5,0,45.7,-10,45.9,7,46.2,2,46.4,-5,46.6,10,46.8,-1,47.1,4,47.3,-7,47.5,1,47.7,6,47.9,-4,48.2,0,48.4,8,48.6,-6,48.8,2,49.1,-1,49.3,5,49.5,-9,49.7,3,49.9,0,44.0,17,47.0,-16,
50.2,4,50.4,-5,50.6,7,50.8,-1,51.1,1,51.3,-7,51.5,5,51.7,0,51.9,-3,52.2,9,52.4,-2,52.6,2,52.8,-6,53.1,5,53.3,-1,53.5,7,53.7,-5,53.9,1,54.2,-9,54.4,4,54.6,0,54.8,6,55.1,-2,55.3,2,55.5,-6,55.7,7,55.9,-1,56.2,3,56.4,-4,56.6,1,56.8,-7,57.1,5,57.3,0,57.5,-2,57.7,6,57.9,-5,58.2,1,58.4,7,58.6,-3,58.8,2,59.1,-6,59.3,0,59.5,4,59.7,-1,59.9,5,51.0,-14,54.0,-17,57.0,14,
60.2,-2,60.4,6,60.6,0,60.8,-6,61.1,3,61.3,-1,61.5,7,61.7,-4,61.9,1,62.2,-5,62.4,4,62.6,-1,62.8,6,63.1,-7,63.3,0,63.5,2,63.7,-4,63.9,7,64.2,-1,64.4,1,64.6,-6,64.8,5,65.1,0,65.3,-2,65.5,6,65.7,-5,65.9,2,66.2,0,66.4,-7,66.6,4,66.8,1,67.1,-2,67.3,6,67.5,-4,67.7,0,67.9,5,68.2,-6,68.4,2,68.6,-1,68.8,7,69.1,-3,69.3,1,69.5,-5,69.7,3,69.9,0,61.0,20,65.0,-12,
70.2,4,70.4,-2,70.6,1,70.8,-6,71.1,3,71.3,0,71.5,-4,71.7,6,71.9,-1,72.2,2,72.4,-5,72.6,0,72.8,7,73.1,-2,73.3,3,73.5,-6,73.7,1,73.9,-1,74.2,5,74.4,-3,74.6,2,74.8,-7,75.1,0,75.3,6,75.5,-2,75.7,1,75.9,-5,76.2,3,76.4,-1,76.6,7,76.8,-3,77.1,0,77.3,2,77.5,-6,77.7,4,77.9,-2,78.2,1,78.4,-4,78.6,5,78.8,0,79.1,-2,79.3,3,79.5,-5,79.7,1,79.9,-1,76.0,-14,79.0,11,
80.2,3,80.4,-4,80.6,1,80.8,-1,81.1,5,81.3,-5,81.5,0,81.7,2,81.9,-2,82.2,6,82.4,-1,82.6,1,82.8,-5,83.1,3,83.3,0,83.5,-2,83.7,5,83.9,-3,84.2,1,84.4,-1,84.6,4,84.8,-6,85.1,2,85.3,0,85.5,-2,85.7,4,85.9,-1,86.2,1,86.4,-4,86.6,4,86.8,0,87.1,-2,87.3,3,87.5,-1,87.7,3,87.9,-3,88.2,1,88.4,-1,88.6,2,88.8,0,89.1,-1,83.0,-16,86.0,12,
7.05,3,7.25,-14,7.45,19,7.65,-6,7.85,10,8.05,-26,8.25,4,8.45,-9,8.65,21,8.85,-17,9.05,1,9.25,-30,9.45,14,9.65,-5,9.85,26,7.15,-22,7.55,8,7.95,-2,8.35,29,8.75,-11,9.15,6,9.55,-19,9.95,12,7.35,28,8.15,-33,8.95,17,9.75,-8,
10.05,7,10.25,-13,10.45,18,10.65,-3,10.85,-21,11.05,11,11.25,0,11.45,-15,11.65,14,11.85,-6,12.05,4,12.25,-19,12.45,12,12.65,-8,12.85,16,13.05,1,13.25,-12,13.45,8,13.65,-3,13.85,14,14.05,-17,14.25,5,14.45,-7,14.65,17,14.85,1,15.05,-11,15.25,9,15.45,-4,15.65,13,15.85,-16,16.05,3,16.25,-8,16.45,11,16.65,-1,16.85,-13,17.05,7,17.25,-4,17.45,15,17.65,-10,17.85,1,18.05,8,18.25,-13,18.45,4,18.65,-3,18.85,12,19.05,-8,19.25,5,19.45,-1,19.65,-12,19.85,9,
20.2,5,20.6,-8,21.0,3,21.4,-12,21.8,9,22.2,-1,22.6,7,23.0,-9,23.4,12,23.8,-4,24.2,3,24.6,-10,25.0,8,25.4,-1,25.8,-7,26.2,9,26.6,-4,27.0,4,27.4,-9,27.8,1,28.2,8,28.6,-5,29.0,-1,29.4,7,29.8,-8,30.3,3,30.7,-5,31.1,7,31.5,-1,31.9,-7,32.3,4,32.7,8,33.1,-4,33.5,1,33.9,-8,34.3,5,34.7,-1,
35.2,4,35.6,-5,36.0,1,36.4,7,36.8,-7,37.2,-1,37.6,5,38.0,1,38.4,-5,38.8,4,39.2,-3,39.6,7,40.0,-4,40.5,3,41.0,-7,41.5,5,42.0,-1,42.5,1,43.0,-5,43.5,4,44.0,-3,44.5,6,45.0,0,45.5,-4,46.0,3,46.5,-5,47.0,5,47.5,-1,48.0,1,48.5,-5,49.0,4,49.5,-1,
50.5,-3,51.0,4,52.0,-1,53.0,3,54.0,-4,55.0,1,56.0,-3,57.0,4,58.0,-1,59.0,-4,60.0,3,61.0,-1,62.0,4,63.5,-3,65.0,3,66.5,-4,68.0,1,69.5,-1,71.0,3,72.5,-3,74.0,1,75.5,-3,77.0,3,78.5,-1,80.0,1,81.5,-3,83.0,3,84.5,-1,86.0,1,87.5,-1];

const PANELS=[
  {dots:P1_DOTS, env:[[P1_NO_UP,P1_NO_LO],[P1_CLN_UP,P1_CLN_LO],[P1_RAW_UP,P1_RAW_LO]]},
  {dots:P2_DOTS, env:[[P2_NO_UP,P2_NO_LO],[P2_CLN_UP,P2_CLN_LO],[P2_RAW_UP,P2_RAW_LO]]},
  {dots:P3_DOTS, env:[[P3_NO_UP,P3_NO_LO],[P3_CLN_UP,P3_CLN_LO],[P3_RAW_UP,P3_RAW_LO]]},
  {dots:P4_DOTS, env:[[P4_NO_UP,P4_NO_LO],[P4_CLN_UP,P4_CLN_LO],[P4_RAW_UP,P4_RAW_LO]]}
];
const LAYOUT=[
  {grid:{left:63,top:43,width:440,height:204}, tx:283, ty:10, lineRight:726, dotRight:742, top:45},
  {grid:{left:673,top:42,width:440,height:205}, tx:893, ty:10, lineRight:117, dotRight:133, top:45},
  {grid:{left:63,top:343,width:440,height:206}, tx:283, ty:312, lineRight:726, dotRight:742, top:347},
  {grid:{left:679,top:343,width:439,height:206}, tx:898, ty:312, lineRight:112, dotRight:128, top:347}
];
const COLORS=['#ff0000','#00ee00','#0000ff'];
const FONT='"Liberation Sans", Arial, Helvetica, sans-serif';

function pairs(flat){const out=[];for(let i=0;i<flat.length;i+=2)out.push([flat[i],flat[i+1]]);return out;}
function envData(arr){return ELEV.map((e,k)=>[e,(arr[k]===null||arr[k]===undefined)?'-':arr[k]]);}

const option={animation:false,backgroundColor:'#fff',title:[],grid:[],xAxis:[],yAxis:[],legend:[],series:[]};
LAYOUT.forEach((L,i)=>{
  option.title.push({text:TITLES[i],left:L.tx,top:L.ty,textAlign:'center',padding:0,
    textStyle:{fontFamily:FONT,fontSize:15.5,fontWeight:'bold',color:'#111'}});
  option.grid.push(Object.assign({show:true,borderColor:'#222',borderWidth:1,backgroundColor:'transparent'},L.grid));
  option.xAxis.push({type:'value',gridIndex:i,min:0,max:90,interval:10,
    name:X_NAME,nameLocation:'middle',nameGap:31,nameTextStyle:{fontFamily:FONT,fontSize:15.5,color:'#222'},
    axisLine:{show:false},axisTick:{show:false},
    axisLabel:{fontFamily:FONT,fontSize:13,color:'#222',margin:8},
    splitLine:{show:true,lineStyle:{color:'#aaa',width:1,type:[1,2]}}});
  option.yAxis.push({type:'value',gridIndex:i,min:-80,max:80,interval:20,
    name:Y_NAME,nameLocation:'middle',nameRotate:90,nameGap:38,nameTextStyle:{fontFamily:FONT,fontSize:17,color:'#222'},
    axisLine:{show:false},axisTick:{show:false},
    axisLabel:{fontFamily:FONT,fontSize:13,color:'#222',margin:9},
    splitLine:{show:true,lineStyle:{color:'#aaa',width:1,type:[1,2]}}});
  option.legend.push({orient:'vertical',align:'right',right:L.dotRight,top:L.top,padding:0,itemGap:0,
    itemWidth:3,itemHeight:3,selectedMode:false,
    data:[{name:LEGEND_NAMES[0],icon:'rect'}],
    textStyle:{fontFamily:FONT,fontSize:13.5,color:'#222',lineHeight:16,padding:[0,19,0,0]}});
  option.legend.push({orient:'vertical',align:'right',right:L.lineRight,top:L.top+16,padding:0,itemGap:0,
    itemWidth:35,itemHeight:3,selectedMode:false,
    data:LEGEND_NAMES.slice(1).map(n=>({name:n,icon:'rect'})),
    textStyle:{fontFamily:FONT,fontSize:13.5,color:'#222',lineHeight:16,padding:[0,4,0,0]}});
  const P=PANELS[i];
  option.series.push({type:'scatter',name:LEGEND_NAMES[0],xAxisIndex:i,yAxisIndex:i,
    data:pairs(P.dots),symbol:'rect',symbolSize:3,itemStyle:{color:'#000'},silent:true,large:false,
    markLine:{silent:true,symbol:'none',label:{show:false},lineStyle:{color:'#777',width:1,type:'solid'},data:[{yAxis:0}],z:1}});
  P.env.forEach((pair,k)=>{
    pair.forEach(arr=>{
      option.series.push({type:'line',name:LEGEND_NAMES[k+1],xAxisIndex:i,yAxisIndex:i,
        data:envData(arr),showSymbol:false,symbol:'none',silent:true,connectNulls:false,
        itemStyle:{color:COLORS[k]},lineStyle:{color:COLORS[k],width:3}});
    });
  });
});
const chart=echarts.init(document.getElementById('c'),null,{renderer:'canvas'});
chart.setOption(option);
</script></body></html>
